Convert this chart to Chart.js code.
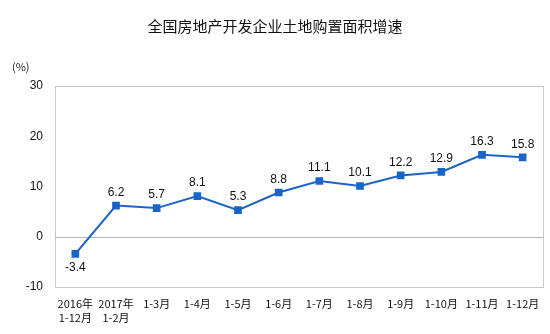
<!DOCTYPE html>
<html>
<head>
<meta charset="utf-8">
<script src="https://cdn.jsdelivr.net/npm/chart.js@4/dist/chart.umd.min.js"></script>
<style>
  html, body { margin: 0; padding: 0; background: #fff; }
  #wrap { position: relative; width: 550px; height: 334px; }
  #title { position: absolute; left: 0; top: 15px; width: 550px; text-align: center;
           font: 15px "Noto Sans CJK SC", sans-serif; color: #111; }
  #unit { position: absolute; left: 12px; top: 58px; font: 11px "Noto Sans CJK SC", sans-serif; color: #222; }
</style>
</head>
<body>
<div id="wrap">
  <div id="title">全国房地产开发企业土地购置面积增速</div>
  <div id="unit">(%)</div>
  <canvas id="chart" width="550" height="334"></canvas>
</div>
<script>
const months = [['2016年', '1-12月'], ['2017年', '1-2月'], '1-3月', '1-4月', '1-5月', '1-6月',
                '1-7月', '1-8月', '1-9月', '1-10月', '1-11月', '1-12月'];
const growth = [-3.4, 6.2, 5.7, 8.1, 5.3, 8.8, 11.1, 10.1, 12.2, 12.9, 16.3, 15.8];
const yTicks = [-10, 0, 10, 20, 30];

const lineColor = '#1a64c8';

// value labels above each point (below for negatives)
const valueLabels = {
    id: 'valueLabels',
    afterDatasetsDraw(chart) {
        const ctx = chart.ctx;
        const meta = chart.getDatasetMeta(0);
        ctx.save();
        ctx.font = '12px "Liberation Sans", Arial, sans-serif';
        ctx.fillStyle = '#111';
        ctx.textAlign = 'center';
        meta.data.forEach((pt, i) => {
            const v = growth[i];
            if (v < 0) {
                ctx.textBaseline = 'top';
                ctx.fillText(v.toFixed(1), pt.x, pt.y + 8);
            } else {
                ctx.textBaseline = 'bottom';
                ctx.fillText(v.toFixed(1), pt.x, pt.y - 7);
            }
        });
        ctx.restore();
    }
};

// frame around the plot area and the zero line
const frame = {
    id: 'frame',
    beforeDatasetsDraw(chart) {
        const {ctx, chartArea: a, scales: {y}} = chart;
        ctx.save();
        ctx.strokeStyle = '#c8c8c8';
        ctx.lineWidth = 1;
        ctx.strokeRect(a.left + 0.5, a.top + 0.5, a.right - a.left, a.bottom - a.top);
        const z = Math.round(y.getPixelForValue(0)) + 0.5;
        ctx.strokeStyle = '#b4b4b4';
        ctx.beginPath();
        ctx.moveTo(a.left, z);
        ctx.lineTo(a.right, z);
        ctx.stroke();
        ctx.restore();
    }
};

new Chart(document.getElementById('chart'), {
    type: 'line',
    data: {
        labels: months,
        datasets: [{
            data: growth,
            borderColor: lineColor,
            backgroundColor: lineColor,
            borderWidth: 2,
            pointStyle: 'rect',
            pointRadius: 4,
            tension: 0
        }]
    },
    options: {
        responsive: false,
        animation: false,
        layout: {padding: {top: 86, right: 7, left: 10, bottom: 0}},
        plugins: {legend: {display: false}, tooltip: {enabled: false}},
        scales: {
            x: {
                offset: true,
                afterFit(scale) { scale.height = 47; },
                grid: {display: false, drawTicks: false},
                border: {display: false},
                ticks: {
                    color: '#111',
                    font: {size: 11, family: '"Noto Sans CJK SC", sans-serif', lineHeight: 1.35},
                    maxRotation: 0,
                    autoSkip: false,
                    padding: 9
                }
            },
            y: {
                min: -10,
                max: 30,
                afterFit(scale) { scale.width = 45; },
                afterBuildTicks(scale) {
                    scale.ticks = yTicks.map(v => ({value: v}));
                },
                grid: {display: false, drawTicks: true, tickLength: 4, color: '#c8c8c8'},
                border: {display: false},
                ticks: {
                    color: '#111',
                    font: {size: 12, family: '"Liberation Sans", Arial, sans-serif'},
                    padding: 8
                }
            }
        }
    },
    plugins: [frame, valueLabels]
});
</script>
</body>
</html>
